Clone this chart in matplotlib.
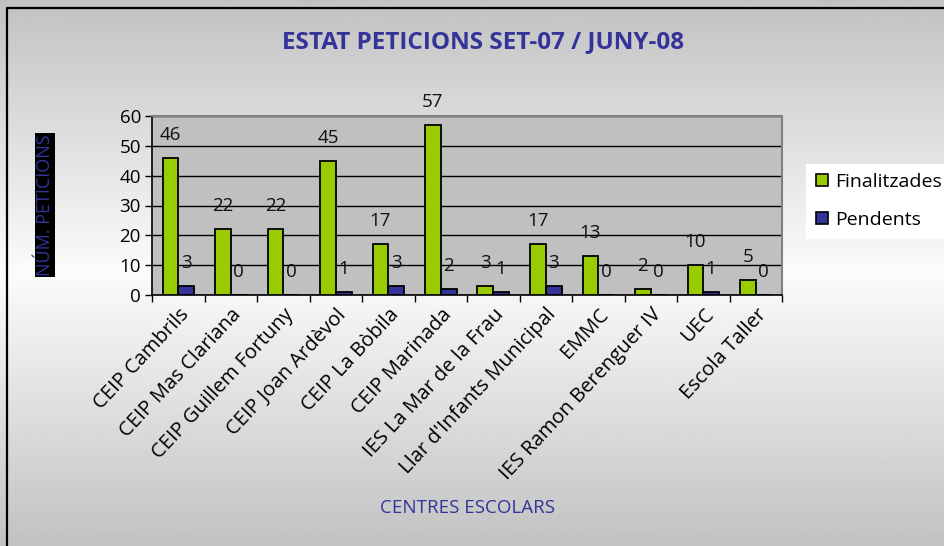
import matplotlib
matplotlib.use("Agg")
import matplotlib.pyplot as plt
import numpy as np
from matplotlib.lines import Line2D

categories = ["CEIP Cambrils", "CEIP Mas Clariana", "CEIP Guillem Fortuny",
              "CEIP Joan Ardèvol", "CEIP La Bòbila", "CEIP Marinada",
              "IES La Mar de la Frau", "Llar d'Infants Municipal", "EMMC",
              "IES Ramon Berenguer IV", "UEC", "Escola Taller"]
finalitzades = [46, 22, 22, 45, 17, 57, 3, 17, 13, 2, 10, 5]
pendents = [3, 0, 0, 1, 3, 2, 1, 3, 0, 0, 1, 0]
yticks = [0, 10, 20, 30, 40, 50, 60]

plt.rcParams['font.family'] = ['Open Sans', 'DejaVu Sans']

W, H = 944, 546
fig = plt.figure(figsize=(W / 100, H / 100), dpi=100)

# background gradient
bg = fig.add_axes([0, 0, 1, 1], zorder=-10)
yy = np.linspace(0, 1, 300)
vals = np.interp(yy, [0, 0.5, 1.0], [0.76, 0.985, 0.76])
img = np.repeat(vals[:, None], 2, axis=1)
bg.imshow(img, cmap='gray', vmin=0, vmax=1, aspect='auto',
          extent=[-0.05, 1.05, 1.0, 0.0], interpolation='bilinear')
bg.set_xlim(0, 1)
bg.set_ylim(1, 0)
bg.axis('off')
# chart border (top and left visible)
bg.plot([7 / W, 7 / W, 1.2], [-0.2, 1 - 7.5 / H, 1 - 7.5 / H], color='black', lw=1.6,
        transform=bg.transAxes, clip_on=False)

ax = fig.add_axes([152 / W, 1 - 295 / H, 630 / W, 179 / H])
ax.set_facecolor('#c0c0c0')
x = np.arange(len(categories))
bw = 0.3
green = '#99cc00'
blue = '#333399'
ax.bar(x - bw / 2, finalitzades, bw, color=green, edgecolor='black', lw=1.3, zorder=3)
ax.bar(x + bw / 2, pendents, bw, color=blue, edgecolor='black', lw=1.3, zorder=3)

for xi, v in zip(x - bw / 2, finalitzades):
    ax.annotate(str(v), (xi, v), xytext=(0, 16.5), textcoords='offset points',
                ha='center', va='center', fontsize=13.5, color='#111111',
                annotation_clip=False, zorder=5)
for xi, v in zip(x + bw / 2, pendents):
    ax.annotate(str(v), (xi, v), xytext=(0, 16.5), textcoords='offset points',
                ha='center', va='center', fontsize=13.5, color='#111111',
                annotation_clip=False, zorder=5)

ax.set_xlim(-0.5, len(categories) - 0.5)
ax.set_ylim(0, 60)
ax.set_yticks(yticks)
ax.set_yticklabels([str(t) for t in yticks], fontsize=13.5)
ax.yaxis.grid(True, color='black', lw=1.0, zorder=1)
ax.set_axisbelow(True)

ax.set_xticks(np.arange(len(categories) + 1) - 0.5)
ax.set_xticklabels([])
ax.set_xticks(x, minor=True)
ax.set_xticklabels(categories, minor=True, rotation=47, ha='right', va='top',
                   rotation_mode='anchor', fontsize=14.5)
ax.tick_params(axis='x', which='minor', length=0, pad=7)
ax.tick_params(axis='x', which='major', length=5, direction='out', width=1)
ax.tick_params(axis='y', length=5, direction='out', width=1, pad=3)

for s in ['top', 'right']:
    ax.spines[s].set_color('#808080')
    ax.spines[s].set_linewidth(1.5)
for s in ['left', 'bottom']:
    ax.spines[s].set_color('black')
    ax.spines[s].set_linewidth(1.2)

fig.text(483 / W, 1 - 42 / H, "ESTAT PETICIONS SET-07 / JUNY-08", ha='center', va='center',
         fontsize=17.5, fontweight='bold', color=blue)
fig.text(467 / W, 1 - 508 / H, "CENTRES ESCOLARS", ha='center', va='center',
         fontsize=13.5, color=blue)
fig.text(45 / W, 1 - 205 / H, "NÚM. PETICIONS", ha='center', va='center', rotation=90,
         fontsize=13, color=blue,
         bbox=dict(facecolor='black', edgecolor='none', pad=1.0))

handles = [Line2D([], [], marker='s', ls='none', markersize=9, markerfacecolor=green,
                  markeredgecolor='black', markeredgewidth=1.2),
           Line2D([], [], marker='s', ls='none', markersize=9, markerfacecolor=blue,
                  markeredgecolor='black', markeredgewidth=1.2)]
leg = fig.legend(handles, ["Finalitzades", "Pendents"], loc='upper left',
                 bbox_to_anchor=(806 / W, 1 - 164 / H), fontsize=14, frameon=True,
                 fancybox=False, edgecolor='white', facecolor='white', framealpha=1,
                 labelspacing=1.05, handletextpad=0.35, handlelength=0.7, borderpad=0.45,
                 borderaxespad=0)

fig.savefig("out.png", dpi=100)
